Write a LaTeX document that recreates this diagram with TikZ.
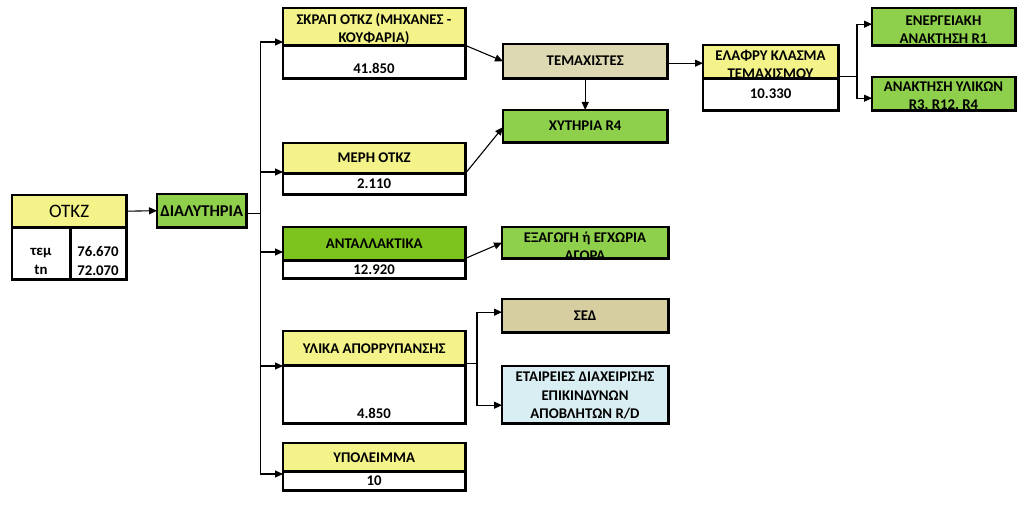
\documentclass[tikz,border=0pt]{standalone}
\usepackage{fontspec}
\setmainfont{Carlito}
\usetikzlibrary{arrows.meta}
\definecolor{yel}{HTML}{F3F38A}
\definecolor{grn}{HTML}{8ED04B}
\definecolor{dgrn}{HTML}{7DC31E}
\definecolor{beige}{HTML}{DDD9B3}
\definecolor{beigeb}{HTML}{D6CEA0}
\definecolor{cyanl}{HTML}{D9EEF2}
\newcommand\bx[7]{\node[box,fill=#6,minimum width=#4pt,minimum height=#5pt] (#1) at (#2,#3) {#7};}
\newcommand\tx[4]{\node[val] (#1) at (#2,#3) {#4};}
\begin{document}
\begin{tikzpicture}[x=1pt,y=-1pt,
  box/.style={inner sep=0pt, anchor=north west, align=center, font=\bfseries\fontsize{14.8}{17.5}\selectfont},
  border/.style={draw=black, line width=2.5pt},
  conn/.style={draw=black, line width=1.1pt},
  arr/.style={conn, -{Triangle[length=8pt,width=7pt]}},
  val/.style={inner sep=0pt, align=center, font=\bfseries\fontsize{14.8}{18}\selectfont}
]
\useasboundingbox (0,0) rectangle (1024,510);
% OTKZ
\node[box,fill=yel,minimum width=114pt,minimum height=32pt,font=\fontsize{19}{20}\selectfont] (otkz) at (12,195) {ΟΤΚΖ};
\bx{otkzl}{12}{227}{58}{52}{white}{}
\bx{otkzr}{70}{227}{56}{52}{white}{}
\node[val,font=\bfseries\fontsize{14.8}{19}\selectfont] (otkzlt) at (41,261) {τεμ\\tn};
\node[val,font=\bfseries\fontsize{14.8}{19}\selectfont] (otkzrt) at (98,261) {76.670\\72.070};
\node[box,fill=grn,minimum width=89pt,minimum height=33pt,font=\bfseries\fontsize{16.5}{18}\selectfont] (dial) at (157,194) {ΔΙΑΛΥΤΗΡΙΑ};
% left column
\bx{skrap}{283}{8}{182}{37}{yel}{}
\tx{skrapt}{374}{29}{ΣΚΡΑΠ ΟΤΚΖ (ΜΗΧΑΝΕΣ -\\ΚΟΥΦΑΡΙΑ)}
\bx{skrapv}{283}{45}{182}{33}{white}{}
\tx{skrapn}{374}{68}{41.850}
\bx{meri}{283}{143}{182}{30}{yel}{ΜΕΡΗ ΟΤΚΖ}
\bx{meriv}{283}{173}{182}{21}{white}{2.110}
\bx{antal}{283}{227}{182}{33}{dgrn}{ΑΝΤΑΛΛΑΚΤΙΚΑ}
\bx{antalv}{283}{260}{182}{18}{white}{12.920}
\bx{ylika}{283}{331}{182}{34}{yel}{ΥΛΙΚΑ ΑΠΟΡΡΥΠΑΝΣΗΣ}
\bx{ylikav}{283}{365}{182}{58}{white}{}
\tx{ylikan}{374}{413}{4.850}
\bx{ypol}{283}{443}{182}{28}{yel}{ΥΠΟΛΕΙΜΜΑ}
\bx{ypolv}{283}{471}{182}{19}{white}{10}
% right column
\bx{temax}{503}{44}{164}{34}{beige}{ΤΕΜΑΧΙΣΤΕΣ}
\bx{xyt}{503}{110}{164}{32}{grn}{ΧΥΤΗΡΙΑ R4}
\bx{exag}{502}{227}{166}{31}{grn}{}
\tx{exagt}{585}{246}{ΕΞΑΓΩΓΗ ή ΕΓΧΩΡΙΑ\\ΑΓΟΡΑ}
\bx{sed}{502}{299}{166}{33}{beigeb}{ΣΕΔ}
\bx{etair}{502}{366}{166}{57}{cyanl}{}
\node[val,font=\bfseries\fontsize{14.8}{18.5}\selectfont] (etairt) at (585,396) {ΕΤΑΙΡΕΙΕΣ ΔΙΑΧΕΙΡΙΣΗΣ\\ΕΠΙΚΙΝΔΥΝΩΝ\\ΑΠΟΒΛΗΤΩΝ R/D};
\bx{elaf}{703}{45}{135}{33}{yel}{}
\tx{elaft}{770.5}{64}{ΕΛΑΦΡΥ ΚΛΑΣΜΑ\\ΤΕΜΑΧΙΣΜΟΥ}
\bx{elafv}{703}{78}{135}{32}{white}{10.330}
\bx{energ}{872}{8}{143}{37}{grn}{}
\tx{energt}{943.5}{30}{ΕΝΕΡΓΕΙΑΚΗ\\ΑΝΑΚΤΗΣΗ R1}
\bx{anakt}{872}{77}{143}{33}{grn}{}
\tx{anaktt}{943.5}{97}{ΑΝΑΚΤΗΣΗ ΥΛΙΚΩΝ\\R3, R12, R4}
% borders on top
\foreach \n in {otkz,otkzl,otkzr,dial,skrap,skrapv,meri,meriv,antal,antalv,ylika,ylikav,ypol,ypolv,temax,xyt,exag,sed,etair,elaf,elafv,energ,anakt}
  \draw[border] (\n.south west) rectangle (\n.north east);
% connectors
\draw[arr] (otkz.east) -- (dial.west);
\coordinate (tmid) at (260,213);
\coordinate (ttop) at (260,42);
\coordinate (tbot) at (260,474);
\draw[conn,line width=0.8pt] (dial.east |- tmid) -- (tmid);
\draw[conn,line width=0.8pt] (ttop) -- (tbot);
\draw[arr] (ttop) -- (ttop -| skrap.west);
\coordinate (t2) at (260,172);
\draw[arr] (t2) -- (t2 -| meri.west);
\coordinate (t3) at (260,252);
\draw[arr] (t3) -- (t3 -| antal.west);
\coordinate (t4) at (260,366);
\draw[arr] (t4) -- (t4 -| ylika.west);
\draw[arr] (tbot) -- (tbot -| ypol.west);
\draw[arr] (skrap.south east) -- (temax.west);
\draw[arr] (temax.south) -- (xyt.north);
\draw[arr] ([yshift=-2pt]temax.east) -- ([yshift=-2pt]temax.east -| elaf.west);
\draw[arr] (meri.south east) -- ([yshift=-1pt]xyt.west);
\draw[arr] ([yshift=2pt]antal.south east) -- (exag.west);
\coordinate (ej) at (857,76);
\draw[conn,line width=0.8pt] (ej -| elaf.east) -- (ej);
\draw[arr] (ej) |- ([yshift=2.5pt]energ.west);
\draw[arr] (ej) |- ([yshift=-4.5pt]anakt.west);
\coordinate (yj) at (477,363);
\draw[conn,line width=0.8pt] (yj -| ylika.east) -- (yj);
\draw[arr] (yj) |- ([yshift=3.5pt]sed.west);
\draw[arr] (yj) |- ([yshift=-10.5pt]etair.west);
\end{tikzpicture}
\end{document}
